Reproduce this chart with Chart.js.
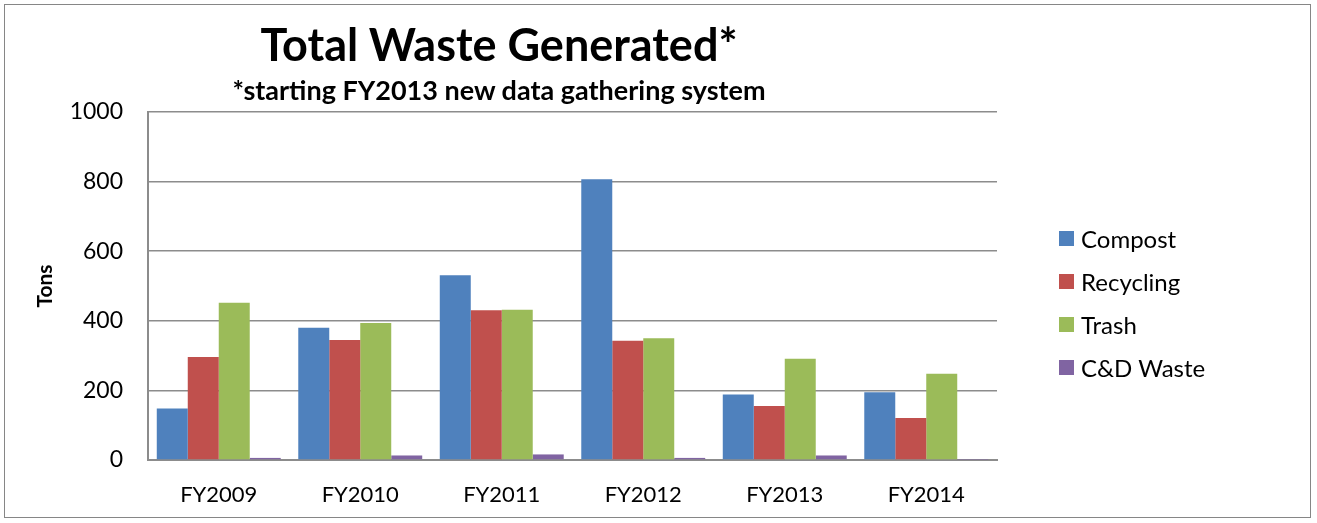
<!DOCTYPE html>
<html>
<head>
<meta charset="utf-8">
<script src="https://cdn.jsdelivr.net/npm/chart.js@4/dist/chart.umd.min.js"></script>
<style>
  html, body { margin: 0; padding: 0; background: #fff; }
  #wrap { position: relative; width: 1317px; height: 523px; font-family: Lato, "Open Sans", sans-serif; color: #000; }
  #frame { position: absolute; left: 4px; top: 4px; width: 1307px; height: 514px; border: 1px solid #868686; box-sizing: border-box; pointer-events: none; }
  #chart { position: absolute; left: 0; top: 0; }
  .ttl { position: absolute; left: 0; width: 998px; text-align: center; font-weight: bold; white-space: nowrap; }
  #title { top: 18px; font-size: 45px; line-height: 52px; }
  #subtitle { top: 74px; font-size: 27px; line-height: 32px; }
  #legend { position: absolute; left: 1059px; top: 217px; margin: 0; padding: 0; list-style: none; }
  #legend li { display: flex; align-items: center; height: 43px; font-size: 24px; }
  #legend span.box { display: inline-block; width: 15px; height: 15px; margin-right: 7px; }
</style>
</head>
<body>
<div id="wrap">
  <canvas id="chart" width="1317" height="523"></canvas>
  <div id="title" class="ttl">Total Waste Generated*</div>
  <div id="subtitle" class="ttl">*starting FY2013 new data gathering system</div>
  <ul id="legend"></ul>
  <div id="frame"></div>
</div>
<script>
const years = ['FY2009', 'FY2010', 'FY2011', 'FY2012', 'FY2013', 'FY2014'];
const compost = [148, 380, 531, 807, 188, 195];
const recycling = [296, 345, 430, 343, 155, 121];
const trash = [452, 394, 432, 350, 291, 248];
const cdWaste = [6, 13, 16, 6, 13, 1];
const yTicks = [0, 200, 400, 600, 800, 1000];

const gridGray = '#8c8c8c';

const ctx = document.getElementById('chart').getContext('2d');
const chart = new Chart(ctx, {
  type: 'bar',
  data: {
    labels: years,
    datasets: [
      { label: 'Compost', data: compost, backgroundColor: '#4f81bd' },
      { label: 'Recycling', data: recycling, backgroundColor: '#c0504d' },
      { label: 'Trash', data: trash, backgroundColor: '#9bbb59' },
      { label: 'C&D Waste', data: cdWaste, backgroundColor: '#8064a2' }
    ]
  },
  options: {
    responsive: false,
    animation: false,
    datasets: {
      bar: { categoryPercentage: 0.876, barPercentage: 1.0 }
    },
    layout: { padding: { top: 112, right: 320, bottom: 0, left: 0 } },
    plugins: {
      legend: { display: false },
      title: { display: false },
      tooltip: { enabled: false }
    },
    scales: {
      x: {
        grid: { display: false, drawTicks: false },
        border: { display: true, color: gridGray, width: 2 },
        ticks: {
          color: '#000',
          padding: 22,
          font: { family: 'Lato', size: 22 }
        },
        afterFit: function(scale) { scale.height = 63; }
      },
      y: {
        min: 0,
        max: 1000,
        afterBuildTicks: function(scale) {
          scale.ticks = yTicks.map(v => ({ value: v }));
        },
        grid: { color: gridGray, lineWidth: 1.5, drawTicks: false },
        border: { display: true, color: gridGray, width: 2 },
        ticks: {
          color: '#000',
          padding: 25,
          font: { family: 'Lato', size: 23 },
          callback: function(value) { return String(value); }
        },
        title: {
          display: true,
          text: 'Tons',
          color: '#000',
          padding: { top: 33, bottom: 0 },
          font: { family: 'Lato', size: 21, weight: 'bold' }
        },
        afterFit: function(scale) { scale.width = 148; }
      }
    }
  }
});

// html legend built from the chart's own label generator
const legendEl = document.getElementById('legend');
chart.options.plugins.legend.labels.generateLabels(chart).forEach(item => {
  const li = document.createElement('li');
  const box = document.createElement('span');
  box.className = 'box';
  box.style.background = item.fillStyle;
  li.appendChild(box);
  li.appendChild(document.createTextNode(item.text));
  legendEl.appendChild(li);
});
</script>
</body>
</html>
